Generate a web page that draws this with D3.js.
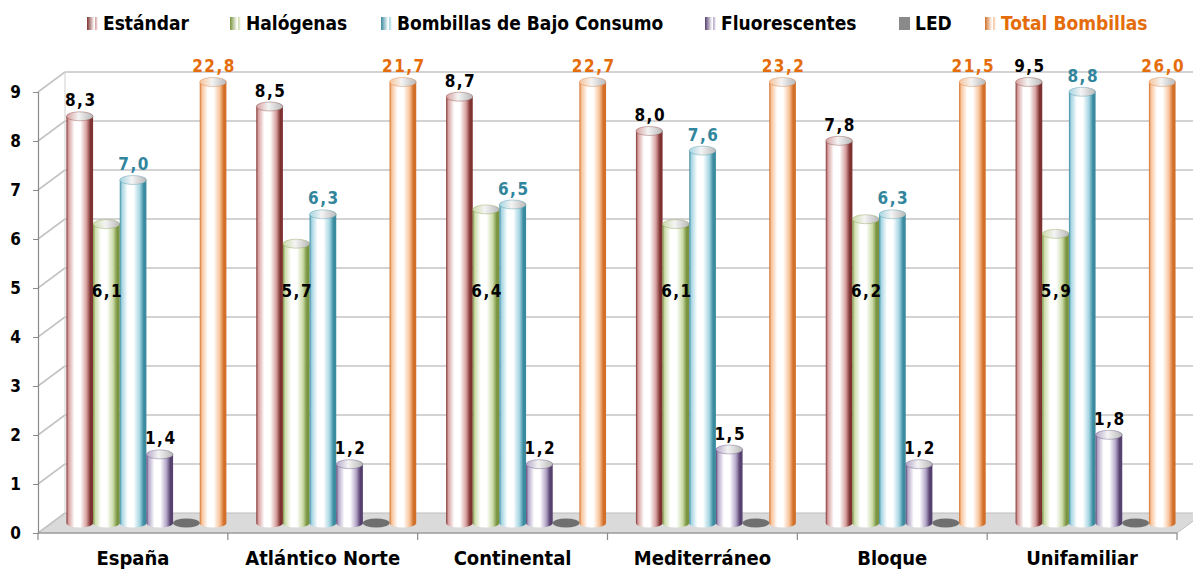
<!DOCTYPE html>
<html>
<head>
<meta charset="utf-8">
<script src="https://cdn.jsdelivr.net/npm/d3@7"></script>
<style>
  body { margin: 0; background: #fff; }
  text { font-family: "DejaVu Sans Condensed", "DejaVu Sans", sans-serif; font-weight: bold; font-stretch: condensed; }
</style>
</head>
<body>
<div id="chart-area"></div>
<script>
// data
const categories = ["España", "Atlántico Norte", "Continental", "Mediterráneo", "Bloque", "Unifamiliar"];
const seriesNames = ["Estándar", "Halógenas", "Bombillas de Bajo Consumo", "Fluorescentes", "LED", "Total Bombillas"];
const estandar = [8.3, 8.5, 8.7, 8.0, 7.8, 9.5];
const halogenas = [6.1, 5.7, 6.4, 6.1, 6.2, 5.9];
const bajoConsumo = [7.0, 6.3, 6.5, 7.6, 6.3, 8.8];
const fluorescentes = [1.4, 1.2, 1.2, 1.5, 1.2, 1.8];
const led = [0, 0, 0, 0, 0, 0];
const total = [22.8, 21.7, 22.7, 23.2, 21.5, 26.0];
const yTicks = [0, 1, 2, 3, 4, 5, 6, 7, 8, 9];

const seriesValues = [estandar, halogenas, bajoConsumo, fluorescentes, led, total];

// colours: dark edge, tint, label colour
const colors = {
  "Estándar": { dark: "#7e3231", mid: "#d7a09f", label: "#000" },
  "Halógenas": { dark: "#7a9440", mid: "#cbdba8", label: "#000" },
  "Bombillas de Bajo Consumo": { dark: "#3b8ba0", mid: "#a5d5e2", label: "#31859c" },
  "Fluorescentes": { dark: "#56416f", mid: "#b4a6c8", label: "#000" },
  "LED": { dark: "#5a5a5a", mid: "#8a8a8a", label: "#000" },
  "Total Bombillas": { dark: "#d2702a", mid: "#f8c39a", label: "#e46c0a" }
};

const W = 1193, H = 571;
const depth = { dx: 27, dy: -20 };

const svg = d3.select("#chart-area").append("svg")
  .attr("width", W)
  .attr("height", H);

const defs = svg.append("defs");

seriesNames.forEach((s, i) => {
  const c = colors[s];
  const g = defs.append("linearGradient").attr("id", "body" + i)
    .attr("x1", "0%").attr("x2", "100%").attr("y1", "0%").attr("y2", "0%");
  [[0, c.dark], [0.08, c.mid], [0.3, "#ffffff"], [0.52, "#ffffff"], [0.75, c.mid], [0.9, c.dark], [1, c.dark]]
    .forEach(st => g.append("stop").attr("offset", st[0]).attr("stop-color", st[1]));
  const t = defs.append("linearGradient").attr("id", "top" + i)
    .attr("x1", "0%").attr("x2", "100%").attr("y1", "0%").attr("y2", "0%");
  [[0, c.mid], [0.45, "#f4f4f4"], [1, "#b8b8b8"]]
    .forEach(st => t.append("stop").attr("offset", st[0]).attr("stop-color", st[1]));
  const l = defs.append("linearGradient").attr("id", "leg" + i)
    .attr("x1", "0%").attr("x2", "100%").attr("y1", "0%").attr("y2", "0%");
  [[0, c.dark], [0.65, "#ffffff"], [0.72, "#ffffff"], [0.78, c.mid], [1, "#ffffff"]]
    .forEach(st => l.append("stop").attr("offset", st[0]).attr("stop-color", s === "LED" ? c.mid : st[1]));
});

// scales
const x0 = d3.scaleBand().domain(categories).range([38, 1177]);
const x1 = d3.scaleBand().domain(seriesNames).range([0, x0.bandwidth()]).paddingOuter(0.56);
const y = d3.scaleLinear().domain([0, 9]).range([533, 92]);

const yMax = 9;

// floor
const x0L = 38, x0R = 1177;
svg.append("path")
  .attr("d", `M${x0L},${y(0)} L${x0R},${y(0)} L${x0R + depth.dx},${y(0) + depth.dy} L${x0L + depth.dx},${y(0) + depth.dy} Z`)
  .attr("fill", "#dadada")
  .attr("stroke", "#bdbdbd");

// back wall gridlines + left wall diagonals
const grid = svg.append("g");
yTicks.filter(t => t > 0).forEach(t => {
  grid.append("line")
    .attr("x1", x0L + depth.dx).attr("x2", x0R + depth.dx)
    .attr("y1", y(t) + depth.dy).attr("y2", y(t) + depth.dy)
    .attr("stroke", "#c4c4c4").attr("stroke-width", 1.6);
});
yTicks.forEach(t => {
  grid.append("line")
    .attr("x1", x0L).attr("x2", x0L + depth.dx)
    .attr("y1", y(t)).attr("y2", y(t) + depth.dy)
    .attr("stroke", "#c4c4c4").attr("stroke-width", 1.6);
});
grid.append("line")
  .attr("x1", x0L + depth.dx).attr("x2", x0L + depth.dx)
  .attr("y1", y(0) + depth.dy).attr("y2", y(9) + depth.dy)
  .attr("stroke", "#d0d0d0").attr("stroke-width", 1);

// y axis
const yAxis = svg.append("g")
  .attr("transform", "translate(" + x0L + ",0)")
  .call(d3.axisLeft(y).tickValues(yTicks).tickSize(5).tickPadding(12).tickFormat(d3.format("d")));
yAxis.select(".domain").attr("stroke", "#8a8a8a").attr("stroke-width", 1.2);
yAxis.selectAll(".tick line").attr("stroke", "#8a8a8a");
yAxis.selectAll(".tick text").attr("font-size", 17).attr("fill", "#000")
  .style("font-family", '"DejaVu Sans Condensed", "DejaVu Sans", sans-serif').style("font-weight", "bold");

// x axis: floor front edge with boundary ticks
const xAxis = svg.append("g");
xAxis.append("line")
  .attr("x1", x0L).attr("x2", x0R).attr("y1", y(0)).attr("y2", y(0))
  .attr("stroke", "#8a8a8a").attr("stroke-width", 1.2);
categories.concat(["end"]).forEach((c, i) => {
  const xx = i < categories.length ? x0(c) : x0R;
  xAxis.append("line")
    .attr("x1", xx).attr("x2", xx).attr("y1", y(0)).attr("y2", y(0) + 7)
    .attr("stroke", "#8a8a8a").attr("stroke-width", 1.2);
});
xAxis.selectAll("text.cat")
  .data(categories)
  .enter().append("text")
  .attr("class", "cat")
  .attr("x", d => x0(d) + x0.bandwidth() / 2)
  .attr("y", 565)
  .attr("text-anchor", "middle")
  .attr("font-size", 20)
  .text(d => d);

// cylinders
const fmt = v => d3.format(".1f")(v).replace(".", ",");
const baseY = v => y(Math.min(v, yMax)) + depth.dy / 2;
const rx = x1.bandwidth() / 2;
const ry = 4.5;

const bars = svg.append("g");
categories.forEach((cat, ci) => {
  seriesNames.forEach((s, si) => {
    const v = seriesValues[si][ci];
    const cx = x0(cat) + x1(s) + rx + depth.dx / 2;
    const yb = baseY(0);
    const yt = baseY(v);
    if (v > 0) {
      bars.append("path")
        .attr("d", `M${cx - rx},${yt} L${cx - rx},${yb} A${rx},${ry} 0 0 0 ${cx + rx},${yb} L${cx + rx},${yt} Z`)
        .attr("fill", "url(#body" + si + ")");
      bars.append("ellipse")
        .attr("cx", cx).attr("cy", yt).attr("rx", rx).attr("ry", ry)
        .attr("fill", "url(#top" + si + ")")
        .attr("stroke", colors[s].dark).attr("stroke-width", 0.6).attr("stroke-opacity", 0.6);
    } else {
      bars.append("ellipse")
        .attr("cx", cx).attr("cy", yb).attr("rx", rx).attr("ry", ry)
        .attr("fill", "#6f6f6f");
    }
  });
});

// value labels
const labels = svg.append("g");
categories.forEach((cat, ci) => {
  seriesNames.forEach((s, si) => {
    if (s === "LED") return;
    const v = seriesValues[si][ci];
    const cx = x0(cat) + x1(s) + rx + depth.dx / 2;
    let ly = baseY(v) - 10;
    if (s === "Halógenas") ly = baseY(4.75) + 7;
    labels.append("text")
      .attr("x", cx + 1)
      .attr("y", ly)
      .attr("text-anchor", "middle")
      .attr("font-size", 17)
      .attr("letter-spacing", 1.5)
      .attr("fill", colors[s].label)
      .text(fmt(v));
  });
});

// legend (swatch x positions)
const legendX = [87, 230, 381, 705, 899, 985];
const legend = svg.append("g");
seriesNames.forEach((s, i) => {
  const row = legend.append("g").attr("transform", "translate(" + legendX[i] + ",0)");
  row.append("rect")
    .attr("x", 0).attr("y", 17).attr("width", 11).attr("height", 13)
    .attr("fill", "url(#leg" + i + ")");
  row.append("text")
    .attr("x", 16).attr("y", 30)
    .attr("font-size", 19)
    .attr("fill", s === "Total Bombillas" ? "#e46c0a" : "#000")
    .text(s);
});
</script>
</body>
</html>
